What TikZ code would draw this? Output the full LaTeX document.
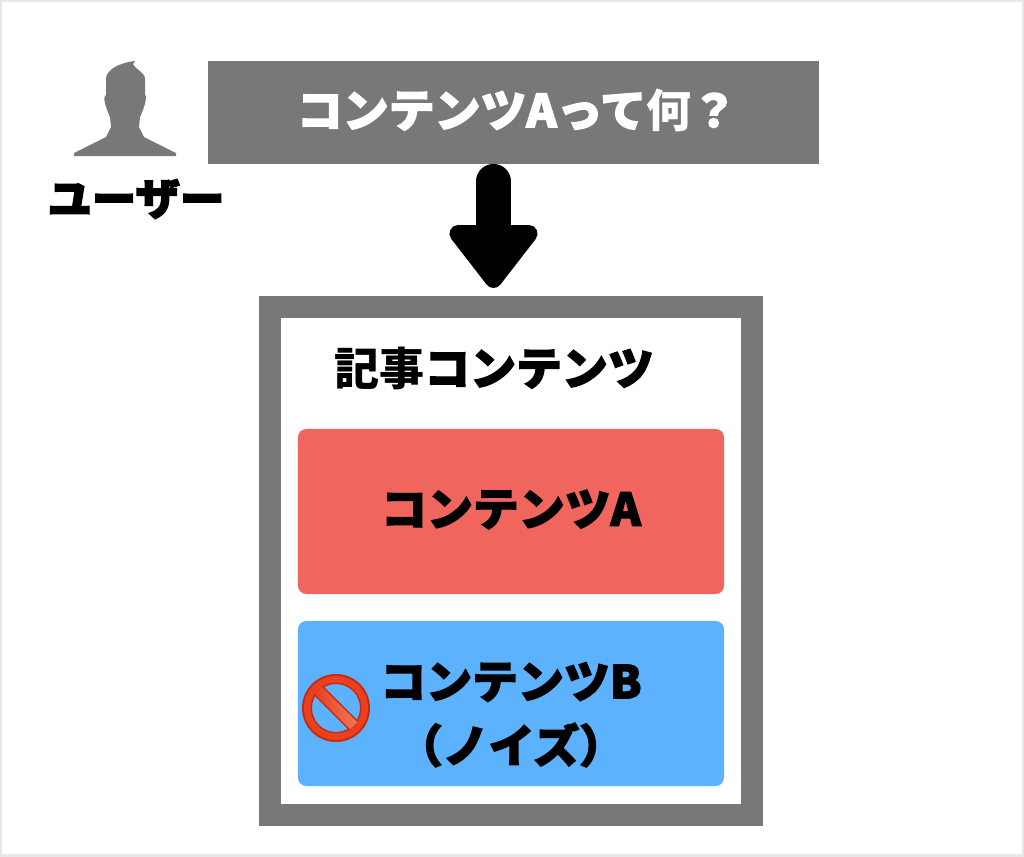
\documentclass[tikz,border=0pt]{standalone}
\usepackage{fontspec}
\usetikzlibrary{arrows.meta}
\newfontfamily\cjk[FakeBold=3,FakeStretch=1.02]{Noto Sans CJK JP Black}
\newfontfamily\cjkplain{Noto Sans CJK JP Black}
\definecolor{frameGray}{HTML}{787878}
\definecolor{redBox}{HTML}{F0655E}
\definecolor{blueBox}{HTML}{5CB2FC}
\definecolor{pageEdge}{HTML}{E8E8E8}
\definecolor{signDark}{HTML}{C82810}
\definecolor{signRed}{HTML}{EA4020}
\definecolor{signLight}{HTML}{F07858}
\tikzset{
	label/.style={font=\cjk\fontsize{32}{38}\selectfont, align=center, text=black, inner sep=0pt},
	panel/.style={rounded corners=6pt, minimum width=10.65cm, minimum height=4.125cm, inner sep=0pt},
}
\newcommand{\silueta}[1]{
	\fill [frameGray,shift={(#1)}] (135,61) .. controls (118,63) and (107,70) .. (106,78) -- (106,95)
		.. controls (103,96) and (104,104) .. (110,117) -- (111,127) -- (106,137) -- (74,153) -- (74,156)
		-- (176,156) -- (176,153) -- (144,137) -- (139,127) -- (140,117)
		.. controls (146,104) and (147,96) .. (145,94) -- (145,78)
		.. controls (144,72) and (134,68) .. (133,64) -- cycle;
	}
\newcommand{\prohibido}[1]{
	\begin{scope}[shift={(#1)}]
		\fill [even odd rule,signDark] (0,0) circle (34) (0,0) circle (24);
		\fill [even odd rule,signRed] (0,0) circle (32) (0,0) circle (25.5);
		\begin{scope}[rotate=-45]
			\fill [signDark] (-25,-6.5) rectangle (25,6.5);
			\shade [left color=signRed,right color=signLight] (-25,-5) rectangle (25,5);
		\end{scope}
	\end{scope}
	}

\begin{document}
\begin{tikzpicture}[x=0.025cm,y=-0.025cm,>=latex]
	\useasboundingbox (0,0) rectangle (1024,856);
	\draw [pageEdge,line width=3pt] (0,0) rectangle (1024,856);
	\silueta{0,0}
	\node [label,font=\cjk\fontsize{31}{38}\selectfont] (usuario) at (136,199) {ユーザー};
	\node [fill=frameGray,minimum width=15.275cm,minimum height=2.575cm,inner sep=0pt] (pregunta) at (513.5,112.5) {};
	\node [label,text=white] (preguntaTexto) at (517,110) {コンテンツAって{\cjkplain 何}？};
	\node [draw=frameGray,line width=15.6pt,minimum width=12.05cm,minimum height=12.7cm,inner sep=0pt,outer sep=0pt] (marco) at (511,561) {};
	\node [label] (titulo) at (494,368) {{\cjkplain 記事}コンテンツ};
	\node [panel,fill=redBox] (contenidoA) at (511,511.5) {};
	\node [label] (textoA) at (511,509.5) {コンテンツA};
	\node [panel,fill=blueBox] (contenidoB) at (511,703.5) {};
	\node [label] (textoB) at (511,682) {コンテンツB};
	\node [label] (textoRuido) at (511,745) {（ノイズ）};
	\prohibido{336,708}
	\coordinate (flechaIni) at (493.5,164);
	\coordinate (flechaFin) at (493.5,296);
	\draw [line width=24.9pt,line cap=round,-{Triangle[round,length=49pt,width=72pt]},shorten <=12.4pt,shorten >=5.7pt] (flechaIni) -- (flechaFin);
\end{tikzpicture}
\end{document}
